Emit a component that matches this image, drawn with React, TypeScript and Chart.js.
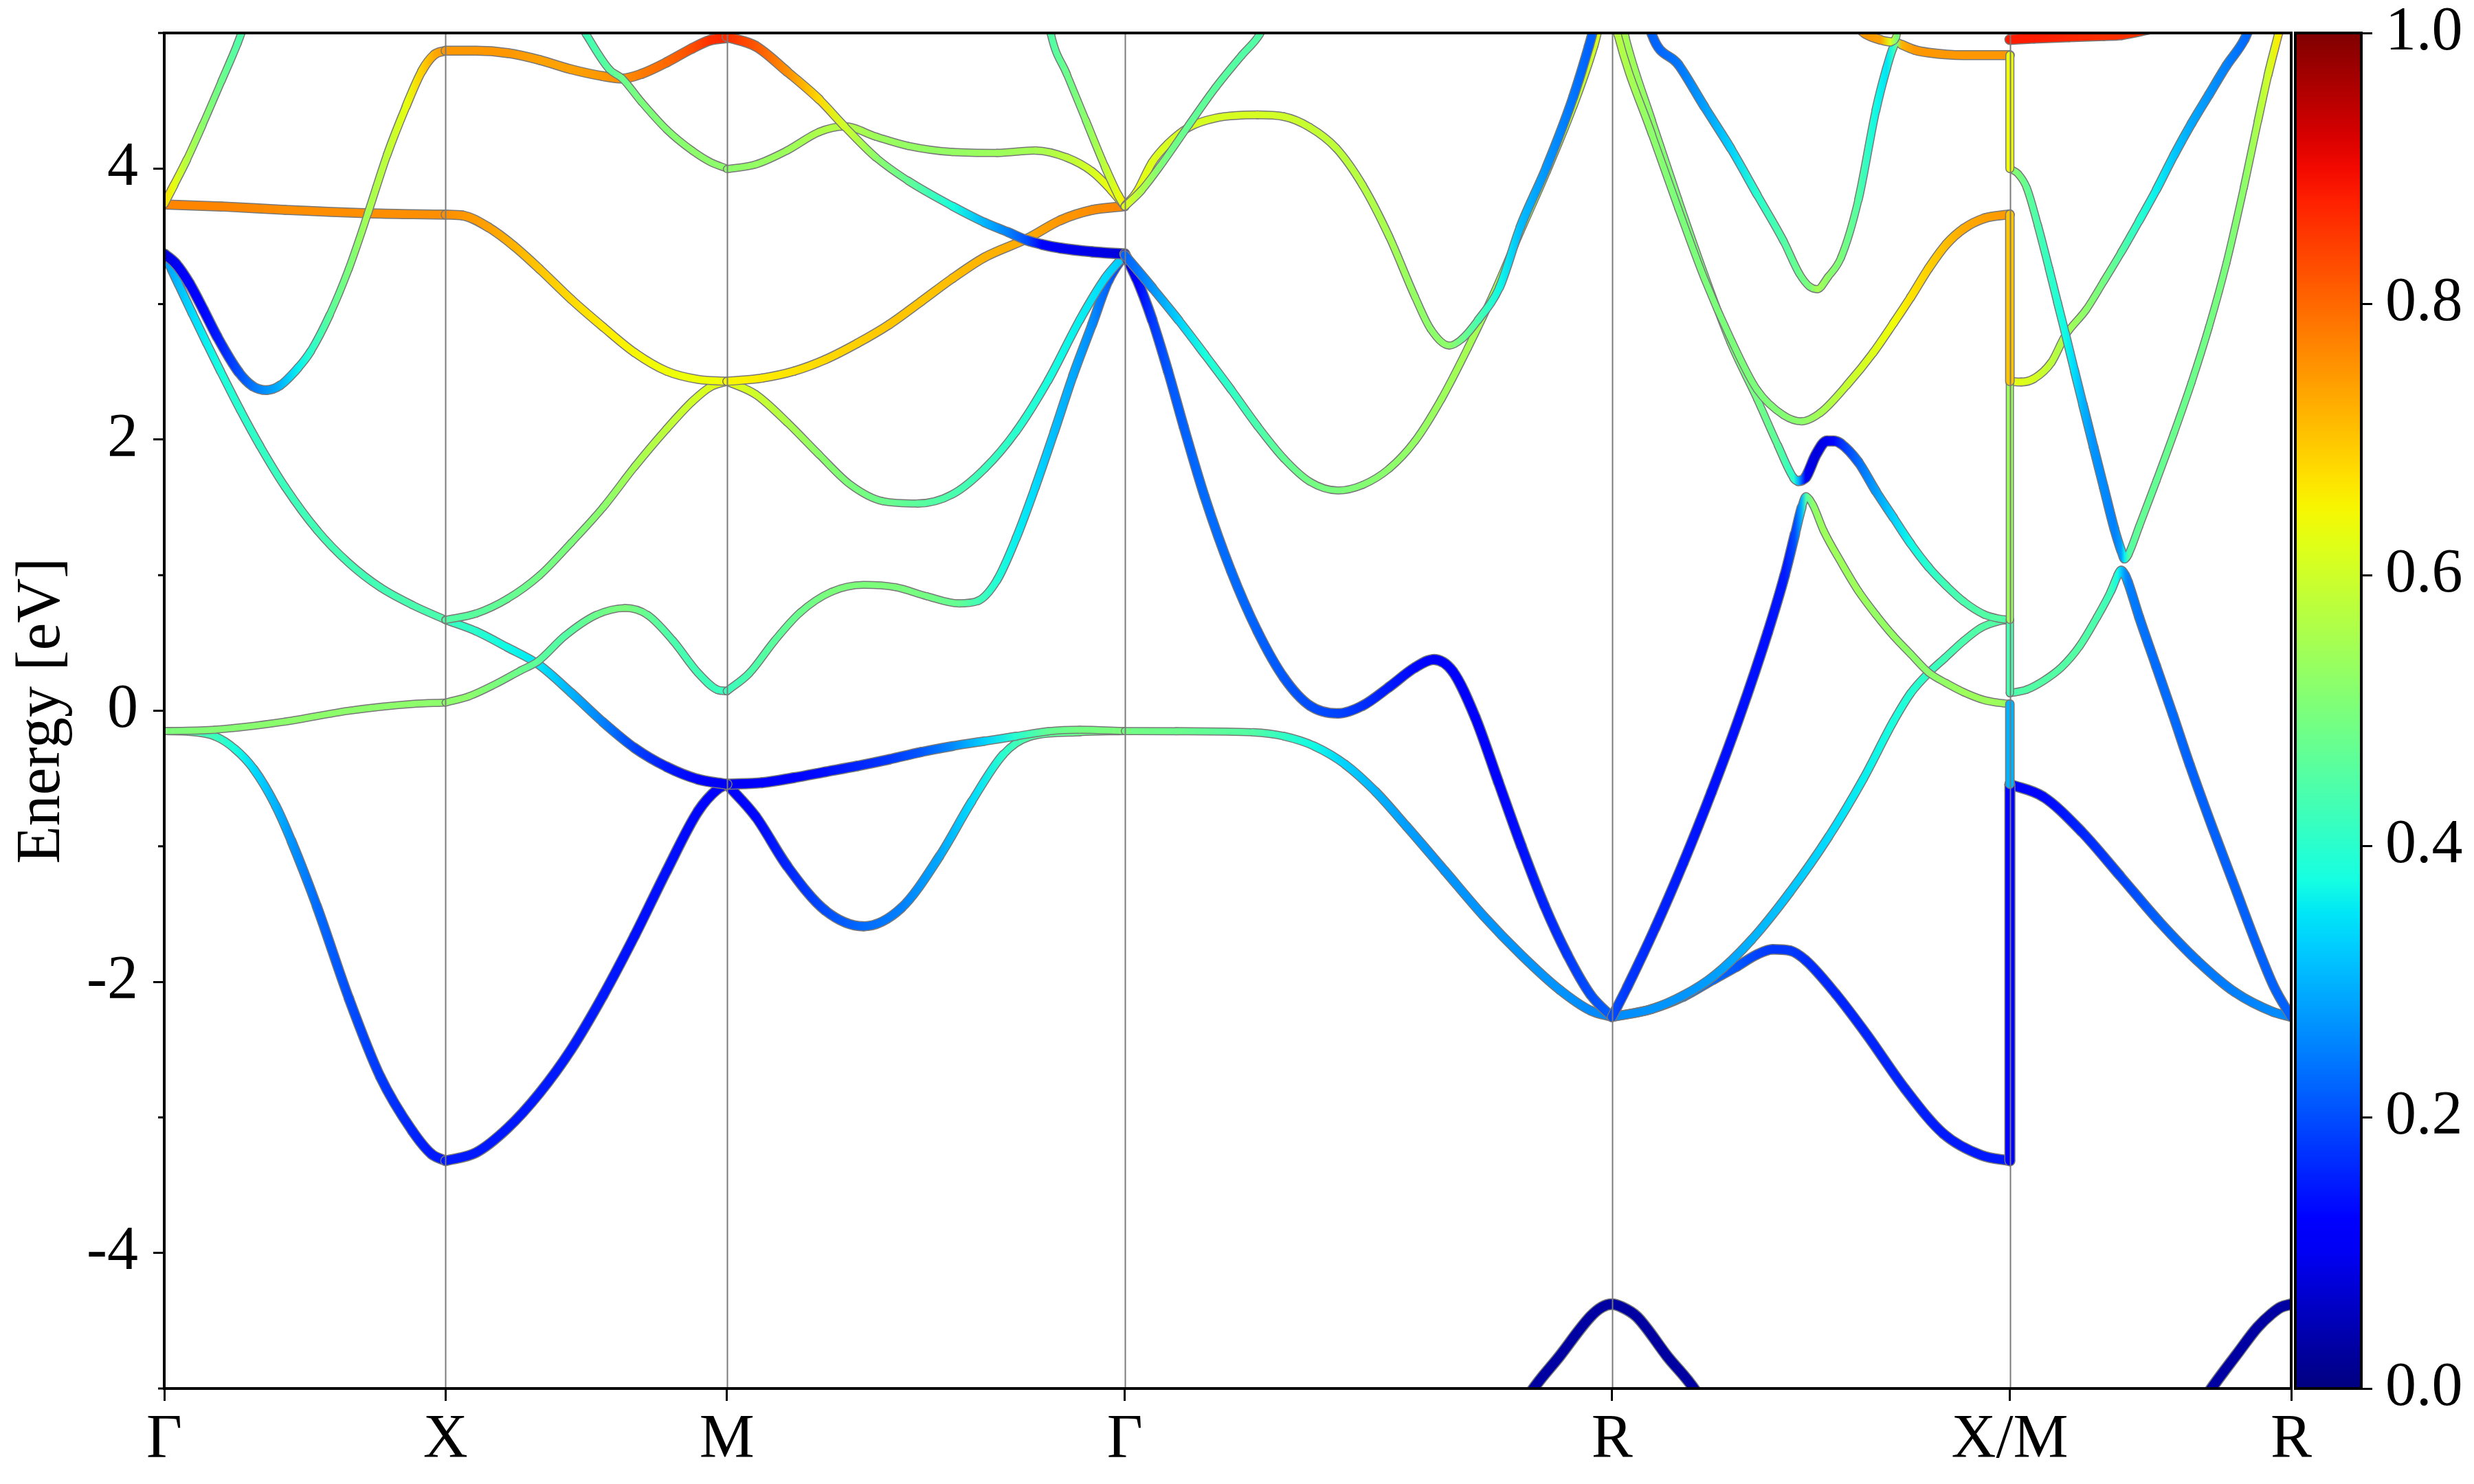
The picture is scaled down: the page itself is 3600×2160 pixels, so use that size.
import React, { useEffect, useRef } from 'react';
import { Chart, registerables } from 'chart.js';

Chart.register(...registerables);

type Pt = [number, number, number]; // [k-path position, energy (eV), projected weight]

// ---- axes / ticks ----
const kTicks = [0, 0.5, 1.0, 1.7071, 2.5731, 3.2802, 3.7802];
const kLabels = ['Γ', 'X', 'M', 'Γ', 'R', 'X/M', 'R'];
const energyMajorTicks = [-4, -2, 0, 2, 4];
const energyMinorTicks = [-5, -3, -1, 1, 3, 5];
const colorbarTicks = [0, 0.2, 0.4, 0.6, 0.8, 1.0];

// ---- Γ – X ----
const gxBand1: Pt[] = [[0,-0.15,0.46],[0.045,-0.155,0.45],[0.091,-0.19,0.42],[0.125,-0.28,0.38],[0.159,-0.43,0.34],[0.198,-0.70,0.30],[0.226,-0.96,0.27],[0.271,-1.44,0.23],[0.328,-2.12,0.20],[0.384,-2.70,0.18],[0.441,-3.10,0.16],[0.475,-3.27,0.15],[0.5,-3.32,0.15]];
const gxBand2: Pt[] = [[0,-0.15,0.50],[0.09,-0.14,0.51],[0.215,-0.08,0.52],[0.328,0.0,0.52],[0.441,0.05,0.52],[0.5,0.06,0.52]];
const gxCyan: Pt[] = [[0,3.37,0.28],[0.025,3.15,0.31],[0.05,2.93,0.34],[0.075,2.715,0.36],[0.1,2.505,0.38],[0.135,2.22,0.40],[0.17,1.955,0.41],[0.215,1.65,0.42],[0.272,1.33,0.43],[0.328,1.09,0.43],[0.384,0.91,0.43],[0.441,0.78,0.44],[0.5,0.67,0.44]];
const gxBlue: Pt[] = [[0,3.37,0.08],[0.02,3.30,0.10],[0.045,3.15,0.11],[0.07,2.955,0.13],[0.094,2.76,0.15],[0.132,2.50,0.20],[0.157,2.395,0.24],[0.182,2.365,0.27],[0.206,2.40,0.30],[0.238,2.53,0.36],[0.26,2.65,0.40],[0.294,2.92,0.46],[0.328,3.26,0.50],[0.362,3.67,0.55],[0.396,4.10,0.58],[0.43,4.46,0.63],[0.458,4.72,0.69],[0.48,4.84,0.73],[0.5,4.87,0.75]];
const gxOrange: Pt[] = [[0,3.735,0.77],[0.102,3.72,0.77],[0.215,3.695,0.76],[0.362,3.67,0.76],[0.441,3.663,0.76],[0.5,3.66,0.76]];
const gxSteep: Pt[] = [[0,3.74,0.68],[0.017,3.876,0.63],[0.04,4.064,0.57],[0.068,4.32,0.52],[0.102,4.647,0.48],[0.13,4.92,0.45],[0.15,5.15,0.44]];

// ---- X – M ----
const xmBand1: Pt[] = [[0.5,-3.32,0.15],[0.554,-3.26,0.15],[0.61,-3.08,0.15],[0.667,-2.82,0.15],[0.723,-2.50,0.15],[0.78,-2.10,0.15],[0.836,-1.66,0.14],[0.893,-1.18,0.14],[0.949,-0.74,0.13],[0.983,-0.58,0.12],[1.0,-0.542,0.12]];
const xmGreenLow: Pt[] = [[0.5,0.06,0.52],[0.542,0.107,0.52],[0.587,0.193,0.50],[0.633,0.296,0.48],[0.664,0.364,0.46],[0.712,0.552,0.45],[0.768,0.707,0.48],[0.819,0.758,0.50],[0.859,0.707,0.47],[0.904,0.518,0.44],[0.949,0.278,0.43],[0.983,0.155,0.42],[1.0,0.145,0.42]];
const xmCyan: Pt[] = [[0.5,0.67,0.42],[0.554,0.587,0.40],[0.61,0.467,0.37],[0.664,0.345,0.35],[0.723,0.134,0.30],[0.78,-0.085,0.25],[0.836,-0.275,0.19],[0.893,-0.414,0.15],[0.949,-0.506,0.12],[1.0,-0.542,0.10]];
const xmGreenMid: Pt[] = [[0.5,0.67,0.45],[0.554,0.717,0.46],[0.61,0.826,0.47],[0.667,0.998,0.49],[0.723,1.238,0.50],[0.78,1.50,0.52],[0.836,1.80,0.55],[0.893,2.08,0.58],[0.938,2.28,0.60],[0.971,2.39,0.62],[1.0,2.43,0.63]];
const xmOrange: Pt[] = [[0.5,3.66,0.76],[0.531,3.653,0.75],[0.576,3.567,0.74],[0.621,3.43,0.72],[0.667,3.259,0.70],[0.723,3.036,0.68],[0.78,2.831,0.66],[0.836,2.642,0.65],[0.893,2.505,0.64],[0.949,2.444,0.64],[1.0,2.43,0.64]];
const xmTop: Pt[] = [[0.5,4.869,0.75],[0.554,4.869,0.75],[0.61,4.852,0.75],[0.667,4.801,0.74],[0.723,4.732,0.74],[0.78,4.681,0.75],[0.814,4.664,0.76],[0.848,4.698,0.78],[0.893,4.784,0.80],[0.938,4.886,0.83],[0.971,4.948,0.86],[1.0,4.965,0.87]];
const xmGreenHigh: Pt[] = [[0.735,5.1,0.42],[0.75,4.99,0.43],[0.791,4.732,0.46],[0.814,4.664,0.48],[0.848,4.492,0.50],[0.893,4.287,0.51],[0.938,4.133,0.52],[0.971,4.047,0.52],[1.0,4.0,0.52]];

// ---- M – Γ ----
const mgBand1: Pt[] = [[1.0,-0.542,0.12],[1.051,-0.78,0.13],[1.107,-1.145,0.16],[1.175,-1.474,0.20],[1.243,-1.59,0.23],[1.31,-1.455,0.25],[1.378,-1.072,0.29],[1.435,-0.67,0.34],[1.491,-0.323,0.40],[1.536,-0.195,0.45],[1.627,-0.158,0.48],[1.7071,-0.15,0.49]];
const mgBand2: Pt[] = [[1.0,-0.542,0.10],[1.062,-0.531,0.11],[1.119,-0.494,0.12],[1.175,-0.451,0.14],[1.232,-0.407,0.16],[1.288,-0.359,0.18],[1.345,-0.305,0.21],[1.401,-0.261,0.26],[1.458,-0.224,0.33],[1.514,-0.188,0.40],[1.571,-0.151,0.47],[1.627,-0.14,0.49],[1.7071,-0.15,0.50]];
const mgPlateau: Pt[] = [[1.0,0.145,0.42],[1.04,0.278,0.44],[1.085,0.518,0.46],[1.13,0.724,0.48],[1.186,0.878,0.50],[1.243,0.929,0.50],[1.299,0.912,0.50],[1.356,0.844,0.49],[1.412,0.792,0.47],[1.446,0.81,0.43],[1.48,0.963,0.39],[1.514,1.272,0.36],[1.548,1.649,0.34],[1.582,2.06,0.31],[1.615,2.471,0.29],[1.649,2.848,0.26],[1.678,3.173,0.22],[1.7071,3.369,0.18]];
const mgValley: Pt[] = [[1.0,2.43,0.63],[1.051,2.334,0.60],[1.107,2.128,0.56],[1.164,1.889,0.52],[1.22,1.666,0.50],[1.277,1.546,0.48],[1.339,1.529,0.46],[1.401,1.597,0.44],[1.458,1.786,0.42],[1.514,2.06,0.40],[1.571,2.437,0.38],[1.627,2.882,0.36],[1.672,3.19,0.34],[1.7071,3.362,0.32]];
const mgYellow: Pt[] = [[1.0,2.43,0.65],[1.062,2.454,0.66],[1.119,2.505,0.67],[1.175,2.591,0.68],[1.232,2.711,0.69],[1.288,2.848,0.70],[1.345,3.019,0.70],[1.401,3.19,0.71],[1.458,3.345,0.72],[1.533,3.482,0.73],[1.593,3.619,0.75],[1.649,3.694,0.76],[1.7071,3.722,0.77]];
const mgGreenFlat: Pt[] = [[1.0,3.996,0.52],[1.051,4.03,0.53],[1.107,4.133,0.54],[1.164,4.27,0.56],[1.209,4.311,0.57],[1.265,4.235,0.54],[1.322,4.167,0.53],[1.401,4.122,0.53],[1.48,4.115,0.54],[1.548,4.133,0.55],[1.604,4.081,0.58],[1.649,3.978,0.61],[1.683,3.841,0.64],[1.7071,3.722,0.66]];
const mgRedDown: Pt[] = [[1.0,4.972,0.86],[1.051,4.903,0.82],[1.107,4.715,0.76],[1.164,4.51,0.68],[1.209,4.311,0.60],[1.265,4.081,0.52],[1.322,3.91,0.47],[1.401,3.722,0.38],[1.458,3.602,0.30],[1.5,3.53,0.25],[1.533,3.471,0.20],[1.56,3.44,0.12],[1.593,3.413,0.10],[1.649,3.386,0.09],[1.7071,3.369,0.08]];
const mgTopIn: Pt[] = [[1.57,5.15,0.45],[1.576,4.99,0.45],[1.604,4.698,0.48],[1.638,4.355,0.52],[1.672,4.013,0.58],[1.695,3.807,0.63],[1.7071,3.722,0.66]];

// ---- Γ – R ----
const grBand1: Pt[] = [[1.7071,-0.15,0.49],[1.799,-0.151,0.48],[1.935,-0.159,0.45],[1.99,-0.188,0.41],[2.044,-0.261,0.37],[2.099,-0.396,0.33],[2.153,-0.597,0.30],[2.208,-0.853,0.28],[2.276,-1.181,0.27],[2.344,-1.51,0.27],[2.412,-1.802,0.27],[2.48,-2.058,0.27],[2.535,-2.212,0.26],[2.5731,-2.259,0.26]];
const grBlueDip: Pt[] = [[1.7071,3.369,0.08],[1.728,3.19,0.12],[1.756,2.882,0.18],[1.784,2.505,0.21],[1.812,2.094,0.22],[1.849,1.58,0.23],[1.896,1.032,0.23],[1.943,0.587,0.22],[1.99,0.244,0.21],[2.036,0.038,0.20],[2.086,-0.02,0.19],[2.13,0.038,0.17],[2.177,0.175,0.15],[2.223,0.319,0.13],[2.256,0.378,0.12],[2.29,0.29,0.11],[2.33,-0.049,0.11],[2.371,-0.524,0.12],[2.412,-0.999,0.14],[2.453,-1.437,0.16],[2.494,-1.802,0.18],[2.535,-2.095,0.20],[2.5731,-2.259,0.22]];
const grU: Pt[] = [[1.7071,3.362,0.22],[1.756,3.12,0.27],[1.803,2.88,0.33],[1.849,2.63,0.38],[1.896,2.37,0.41],[1.943,2.10,0.44],[1.99,1.86,0.47],[2.036,1.69,0.49],[2.086,1.625,0.50],[2.13,1.666,0.51],[2.177,1.786,0.52],[2.223,1.99,0.53],[2.27,2.30,0.54],[2.317,2.677,0.55],[2.364,3.088,0.55],[2.41,3.533,0.55],[2.457,3.978,0.56],[2.504,4.458,0.58],[2.541,4.903,0.60],[2.553,5.1,0.62]];
const grHump: Pt[] = [[1.7071,3.722,0.65],[1.728,3.824,0.63],[1.756,4.047,0.62],[1.784,4.184,0.61],[1.821,4.304,0.61],[1.868,4.372,0.61],[1.943,4.396,0.61],[1.99,4.383,0.60],[2.036,4.304,0.59],[2.083,4.15,0.58],[2.13,3.876,0.57],[2.177,3.499,0.55],[2.223,3.053,0.53],[2.251,2.814,0.52],[2.284,2.694,0.52],[2.307,2.745,0.48],[2.335,2.882,0.44],[2.373,3.122,0.37],[2.41,3.567,0.31],[2.457,4.013,0.27],[2.504,4.527,0.24],[2.532,4.903,0.22],[2.545,5.1,0.22]];
const grSteep: Pt[] = [[1.7071,3.72,0.62],[1.737,3.84,0.56],[1.775,4.047,0.50],[1.821,4.321,0.47],[1.868,4.595,0.46],[1.915,4.835,0.45],[1.947,4.99,0.45],[1.96,5.1,0.45]];
const rDeep: Pt[] = [[2.40,-5.25,0.03],[2.426,-5.046,0.03],[2.48,-4.761,0.03],[2.535,-4.469,0.03],[2.555,-4.40,0.03],[2.5731,-4.378,0.03],[2.591,-4.40,0.03],[2.617,-4.469,0.03],[2.671,-4.761,0.03],[2.726,-5.046,0.03],[2.75,-5.25,0.03]];

// ---- R – X ----
const rxBand1: Pt[] = [[2.5731,-2.259,0.26],[2.644,-2.20,0.26],[2.70,-2.11,0.25],[2.753,-1.985,0.23],[2.794,-1.89,0.21],[2.83,-1.80,0.19],[2.859,-1.76,0.18],[2.89,-1.77,0.18],[2.917,-1.84,0.17],[2.971,-2.09,0.16],[3.026,-2.39,0.16],[3.094,-2.79,0.16],[3.162,-3.12,0.15],[3.23,-3.28,0.15],[3.2802,-3.32,0.15]];
const rxCyanUp: Pt[] = [[2.5731,-2.259,0.26],[2.644,-2.20,0.27],[2.70,-2.10,0.27],[2.753,-1.96,0.28],[2.821,-1.69,0.30],[2.889,-1.34,0.32],[2.958,-0.93,0.34],[3.02,-0.50,0.36],[3.073,-0.08,0.38],[3.104,0.13,0.39],[3.136,0.28,0.41],[3.165,0.39,0.43],[3.198,0.515,0.44],[3.229,0.612,0.45],[3.26,0.66,0.45],[3.2802,0.67,0.45]];
const rxSteepBlue: Pt[] = [[2.5731,-2.259,0.20],[2.60,-2.04,0.18],[2.65,-1.60,0.16],[2.70,-1.12,0.15],[2.75,-0.60,0.14],[2.80,-0.04,0.14],[2.85,0.58,0.14],[2.88,1.0,0.15],[2.898,1.30,0.20],[2.91,1.50,0.30],[2.918,1.58,0.45],[2.93,1.52,0.52],[2.949,1.33,0.54],[2.98,1.097,0.54],[3.011,0.883,0.54],[3.042,0.709,0.53],[3.073,0.553,0.53],[3.104,0.418,0.52],[3.136,0.282,0.52],[3.167,0.204,0.53],[3.198,0.137,0.54],[3.235,0.078,0.54],[3.26,0.059,0.54],[3.2802,0.05,0.54]];
const rxGreenBump: Pt[] = [[2.588,5.15,0.56],[2.597,4.97,0.55],[2.644,4.355,0.52],[2.691,3.773,0.50],[2.737,3.225,0.50],[2.784,2.711,0.50],[2.831,2.30,0.49],[2.868,1.957,0.46],[2.896,1.717,0.40],[2.904,1.695,0.30],[2.917,1.72,0.10],[2.936,1.892,0.08],[2.955,1.99,0.10],[2.967,1.99,0.13],[2.98,1.97,0.17],[3.011,1.834,0.23],[3.042,1.62,0.28],[3.073,1.426,0.33],[3.104,1.232,0.37],[3.136,1.058,0.40],[3.167,0.922,0.43],[3.198,0.806,0.44],[3.235,0.709,0.45],[3.26,0.68,0.45],[3.2802,0.67,0.45]];
const rxGreenU: Pt[] = [[2.575,5.15,0.58],[2.583,4.99,0.57],[2.644,4.252,0.52],[2.691,3.704,0.50],[2.737,3.19,0.50],[2.784,2.745,0.50],[2.831,2.368,0.50],[2.878,2.18,0.51],[2.91,2.135,0.52],[2.943,2.197,0.55],[2.99,2.40,0.59],[3.037,2.64,0.62],[3.073,2.857,0.64],[3.104,3.051,0.67],[3.136,3.265,0.69],[3.167,3.44,0.71],[3.198,3.556,0.73],[3.235,3.633,0.74],[3.2802,3.662,0.75]];
const rxV: Pt[] = [[2.637,5.12,0.22],[2.644,4.99,0.22],[2.691,4.767,0.24],[2.737,4.458,0.28],[2.784,4.15,0.33],[2.831,3.807,0.40],[2.878,3.465,0.45],[2.906,3.225,0.48],[2.924,3.13,0.50],[2.938,3.11,0.55],[2.957,3.20,0.52],[2.98,3.342,0.50],[3.011,3.769,0.45],[3.042,4.428,0.37],[3.061,4.739,0.35],[3.073,4.894,0.40],[3.08,4.93,0.50],[3.088,4.914,0.72],[3.111,4.875,0.75],[3.136,4.855,0.75],[3.198,4.836,0.75],[3.2802,4.836,0.75]];
const rxTopTip: Pt[] = [[2.99,5.12,0.75],[3.023,4.995,0.75],[3.05,4.95,0.74],[3.068,4.935,0.62],[3.078,4.97,0.50],[3.086,5.12,0.50]];

// ---- M – R ----
const mrBand1: Pt[] = [[3.2802,-0.542,0.11],[3.339,-0.633,0.13],[3.407,-0.889,0.16],[3.476,-1.218,0.19],[3.544,-1.547,0.22],[3.612,-1.839,0.24],[3.68,-2.076,0.25],[3.748,-2.222,0.26],[3.7802,-2.259,0.26]];
const mrTent: Pt[] = [[3.2802,0.13,0.44],[3.31,0.156,0.45],[3.341,0.224,0.45],[3.372,0.321,0.45],[3.404,0.476,0.45],[3.435,0.689,0.44],[3.46,0.883,0.42],[3.472,1.0,0.37],[3.478,1.035,0.32],[3.485,1.0,0.27],[3.49,0.95,0.25],[3.51,0.69,0.24],[3.54,0.33,0.23],[3.57,-0.03,0.23],[3.60,-0.40,0.22],[3.64,-0.86,0.22],[3.68,-1.30,0.22],[3.72,-1.74,0.22],[3.75,-2.04,0.22],[3.7802,-2.259,0.22]];
const mrDownUp: Pt[] = [[3.2802,4.0,0.52],[3.295,3.96,0.50],[3.31,3.86,0.47],[3.33,3.58,0.44],[3.35,3.26,0.41],[3.365,3.01,0.39],[3.379,2.78,0.37],[3.395,2.51,0.34],[3.41,2.26,0.30],[3.429,1.945,0.27],[3.447,1.65,0.26],[3.466,1.34,0.25],[3.478,1.18,0.28],[3.484,1.12,0.36],[3.491,1.155,0.45],[3.51,1.36,0.47],[3.541,1.70,0.47],[3.572,2.05,0.48],[3.603,2.42,0.48],[3.634,2.83,0.49],[3.665,3.30,0.50],[3.696,3.86,0.52],[3.721,4.35,0.56],[3.739,4.69,0.60],[3.758,5.0,0.66],[3.77,5.2,0.70]];
const mrRise: Pt[] = [[3.2802,2.43,0.63],[3.30,2.425,0.62],[3.323,2.45,0.61],[3.354,2.57,0.58],[3.379,2.77,0.55],[3.416,2.96,0.52],[3.447,3.168,0.49],[3.478,3.381,0.45],[3.51,3.614,0.40],[3.541,3.847,0.36],[3.572,4.099,0.32],[3.603,4.332,0.29],[3.634,4.545,0.27],[3.665,4.758,0.25],[3.697,4.952,0.23],[3.712,5.1,0.22]];
const mrRed: Pt[] = [[3.2802,4.952,0.88],[3.323,4.962,0.88],[3.385,4.972,0.87],[3.447,4.981,0.86],[3.478,4.987,0.86],[3.53,5.03,0.85]];
const mrDeep: Pt[] = [[3.60,-5.25,0.03],[3.63,-5.05,0.03],[3.685,-4.74,0.03],[3.72,-4.55,0.03],[3.745,-4.45,0.03],[3.762,-4.40,0.03],[3.7802,-4.378,0.03]];

// ---- band jumps at X/M ----
const jump1: Pt[] = [[3.2802,-3.32,0.11],[3.2802,-0.542,0.11]];
const jump2: Pt[] = [[3.2802,0.05,0.30],[3.2802,-0.542,0.30]];
const jump3: Pt[] = [[3.2802,0.67,0.44],[3.2802,0.13,0.44]];
const jump4: Pt[] = [[3.2802,0.67,0.54],[3.2802,2.43,0.54]];
const jump5: Pt[] = [[3.2802,3.662,0.70],[3.2802,2.43,0.70]];
const jump6: Pt[] = [[3.2802,4.836,0.64],[3.2802,4.0,0.64]];

const allBands: Pt[][] = [
  rDeep, mrDeep,
  gxBand1, gxBand2, xmBand1, mgBand1, mgBand2, grBand1, rxBand1, mrBand1,
  gxCyan, gxOrange, gxBlue, gxSteep,
  xmCyan, xmGreenLow, xmGreenMid, xmOrange, xmTop, xmGreenHigh,
  mgPlateau, mgValley, mgYellow, mgGreenFlat, mgRedDown, mgTopIn,
  grBlueDip, grU, grHump, grSteep,
  rxCyanUp, rxSteepBlue, rxGreenBump, rxGreenU, rxV, rxTopTip,
  mrTent, mrRise, mrDownUp, mrRed,
  jump1, jump2, jump3, jump4, jump5, jump6,
];

// ---- jet colormap ----
const JET_R = [[0, 0], [0.35, 0], [0.66, 1], [0.89, 1], [1, 0.5]];
const JET_G = [[0, 0], [0.125, 0], [0.375, 1], [0.64, 1], [0.91, 0], [1, 0]];
const JET_B = [[0, 0.5], [0.11, 1], [0.34, 1], [0.65, 0], [1, 0]];
function interp(tbl: number[][], v: number) {
  for (let i = 1; i < tbl.length; i++) {
    if (v <= tbl[i][0]) {
      const [x0, y0] = tbl[i - 1];
      const [x1, y1] = tbl[i];
      return y0 + ((y1 - y0) * (v - x0)) / (x1 - x0);
    }
  }
  return tbl[tbl.length - 1][1];
}
function jet(v: number) {
  const t = Math.max(0, Math.min(1, v));
  const r = Math.round(interp(JET_R, t) * 255);
  const g = Math.round(interp(JET_G, t) * 255);
  const b = Math.round(interp(JET_B, t) * 255);
  return `rgb(${r},${g},${b})`;
}
function widthFor(c: number) {
  return 8.5 + 12 * Math.abs(c - 0.5);
}

function makeDatasets(pts: Pt[], idx: number, total: number) {
  const data = pts.map((p) => ({ x: p[0], y: p[1] }));
  const vertical = pts[0][0] === pts[pts.length - 1][0];
  const segW = (c: any) => widthFor((pts[c.p0DataIndex][2] + pts[c.p1DataIndex][2]) / 2);
  const colorFn = (ctx: any) => {
    const chart = ctx.chart;
    const xs = chart.scales && chart.scales.x;
    if (vertical || !xs || !chart.chartArea) return jet(pts[0][2]);
    const x0 = xs.getPixelForValue(pts[0][0]);
    const x1 = xs.getPixelForValue(pts[pts.length - 1][0]);
    const g = chart.ctx.createLinearGradient(x0, 0, x1, 0);
    for (const p of pts) {
      const t = (xs.getPixelForValue(p[0]) - x0) / (x1 - x0);
      g.addColorStop(Math.max(0, Math.min(1, t)), jet(p[2]));
    }
    return g;
  };
  const common = {
    data,
    pointRadius: 0,
    pointHoverRadius: 0,
    fill: false,
    clip: 0,
    capBezierPoints: false,
    borderCapStyle: 'round',
    borderJoinStyle: 'round',
    cubicInterpolationMode: vertical ? 'default' : 'monotone',
    tension: 0,
  };
  return [
    {
      ...common,
      order: 2 * (total - idx) + 1,
      borderColor: '#777777',
      borderWidth: 11,
      segment: { borderWidth: (c: any) => segW(c) + 3 },
    },
    {
      ...common,
      order: 2 * (total - idx),
      borderColor: colorFn,
      borderWidth: 8,
      segment: { borderWidth: (c: any) => segW(c) },
    },
  ];
}

const decorPlugin = {
  id: 'decor',
  afterDatasetsDraw(chart: any) {
    const { ctx, chartArea: a, scales } = chart;
    ctx.save();
    // vertical high-symmetry lines
    ctx.strokeStyle = '#7a7a7a';
    ctx.lineWidth = 2;
    kTicks.slice(1, -1).forEach((k) => {
      const x = Math.round(scales.x.getPixelForValue(k)) + 0.5;
      ctx.beginPath();
      ctx.moveTo(x, a.top);
      ctx.lineTo(x, a.bottom);
      ctx.stroke();
    });
    // minor y ticks
    ctx.strokeStyle = '#000';
    ctx.lineWidth = 3;
    energyMinorTicks.forEach((v) => {
      const y = scales.y.getPixelForValue(v);
      ctx.beginPath();
      ctx.moveTo(a.left - 9, y);
      ctx.lineTo(a.left, y);
      ctx.stroke();
    });
    // frame
    ctx.lineWidth = 4;
    ctx.strokeRect(a.left, a.top, a.right - a.left, a.bottom - a.top);
    // colorbar
    const cb = scales.cb;
    const bx0 = a.right + 6;
    const bx1 = a.right + 102;
    ctx.fillStyle = '#fff';
    ctx.fillRect(a.right + 2, a.top - 4, bx0 - a.right - 2, a.bottom - a.top + 8);
    const g = ctx.createLinearGradient(0, cb.getPixelForValue(0), 0, cb.getPixelForValue(1));
    for (let i = 0; i <= 40; i++) g.addColorStop(i / 40, jet(i / 40));
    ctx.fillStyle = g;
    ctx.fillRect(bx0, a.top, bx1 - bx0, a.bottom - a.top);
    ctx.strokeStyle = '#000';
    ctx.lineWidth = 4;
    ctx.strokeRect(bx0, a.top, bx1 - bx0, a.bottom - a.top);
    ctx.restore();
  },
};

export default function App() {
  const canvasRef = useRef<HTMLCanvasElement | null>(null);

  useEffect(() => {
    const canvas = canvasRef.current;
    if (!canvas) return;
    Chart.defaults.font.family = "'Liberation Serif', 'Times New Roman', serif";
    Chart.defaults.color = '#000';
    const total = allBands.length;
    const datasets: any[] = [];
    allBands.forEach((b, i) => datasets.push(...makeDatasets(b, i, total)));

    const chart = new Chart(canvas, {
      type: 'line',
      data: { datasets },
      options: {
        responsive: false,
        maintainAspectRatio: false,
        devicePixelRatio: 1,
        animation: false,
        events: [],
        layout: { padding: { top: 48, left: 0, right: 0, bottom: 0 } },
        plugins: { legend: { display: false }, tooltip: { enabled: false } },
        scales: {
          x: {
            type: 'linear',
            position: 'bottom',
            min: 0,
            max: 3.7802,
            afterBuildTicks: (s: any) => {
              s.ticks = kTicks.map((v) => ({ value: v }));
            },
            afterFit: (s: any) => {
              s.height = 139;
              s.paddingLeft = 0;
              s.paddingRight = 0;
            },
            ticks: {
              autoSkip: false,
              maxRotation: 0,
              minRotation: 0,
              padding: 4,
              color: '#000',
              font: { size: 90 },
              callback: (_v: any, i: number) => kLabels[i],
            },
            grid: { drawOnChartArea: false, drawTicks: true, tickLength: 18, tickWidth: 3, tickColor: '#000' },
            border: { display: false },
          },
          y: {
            type: 'linear',
            position: 'left',
            min: -5,
            max: 5,
            afterBuildTicks: (s: any) => {
              s.ticks = energyMajorTicks.map((v) => ({ value: v }));
            },
            afterFit: (s: any) => {
              s.width = 239;
              s.paddingTop = 0;
              s.paddingBottom = 0;
            },
            ticks: {
              padding: 22,
              color: '#000',
              font: { size: 90 },
              callback: (v: any) => (v < 0 ? '-' + Math.abs(v) : String(v)),
            },
            grid: { drawOnChartArea: false, drawTicks: true, tickLength: 16, tickWidth: 3, tickColor: '#000' },
            border: { display: false },
            title: {
              display: true,
              text: 'Energy [eV]',
              color: '#000',
              font: { size: 90 },
              padding: { top: 8, bottom: 0 },
            },
          },
          cb: {
            type: 'linear',
            position: 'right',
            min: 0,
            max: 1,
            afterBuildTicks: (s: any) => {
              s.ticks = colorbarTicks.map((v) => ({ value: v }));
            },
            afterFit: (s: any) => {
              s.width = 266;
              s.paddingTop = 0;
              s.paddingBottom = 0;
            },
            ticks: {
              padding: 19,
              color: '#000',
              font: { size: 90 },
              callback: (v: any) => Number(v).toFixed(1),
            },
            grid: { drawOnChartArea: false, drawTicks: true, tickLength: 118, tickWidth: 3, tickColor: '#000' },
            border: { display: false },
          },
        },
      } as any,
      plugins: [decorPlugin],
    });
    return () => chart.destroy();
  }, []);

  return (
    <div style={{ position: 'fixed', left: 0, top: 0, width: 3600, height: 2160, background: '#fff' }}>
      <canvas ref={canvasRef} width={3600} height={2160} style={{ width: 3600, height: 2160, display: 'block' }} />
    </div>
  );
}
